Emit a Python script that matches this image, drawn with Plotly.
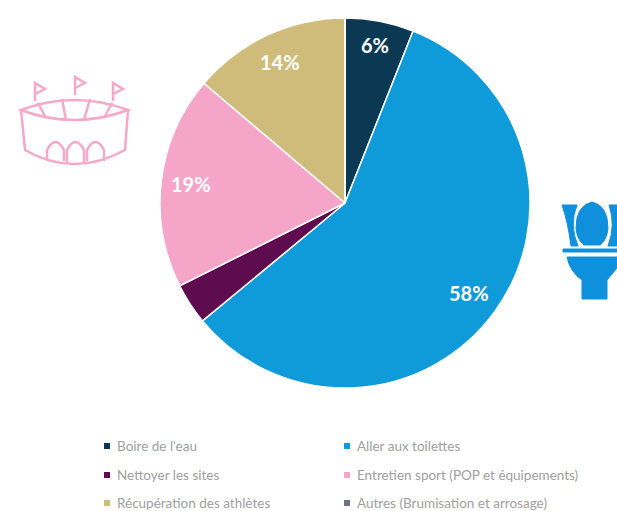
import math
import plotly.graph_objects as go

W, H = 617, 511
categories = ["Boire de l'eau", "Aller aux toilettes", "Nettoyer les sites",
              "Entretien sport (POP et équipements)", "Récupération des athlètes",
              "Autres (Brumisation et arrosage)"]
values = [6, 58, 3.6, 18.6, 13.8, 0]
slice_labels = ["6%", "58%", "", "19%", "14%", ""]
colors = ["#0b3954", "#0f9ad9", "#5e0b50", "#f5a6c8", "#cfbc7a", "#6d7480"]

CX, CY, R = 345, 203, 185
def px(x): return x / W
def py(y): return 1 - y / H

fig = go.Figure(go.Pie(
    values=values, labels=categories, sort=False, direction="clockwise", rotation=0,
    marker=dict(colors=colors, line=dict(color="white", width=1.5)),
    textinfo="none", hoverinfo="label+value", showlegend=False,
    domain=dict(x=[px(CX - R), px(CX + R)], y=[py(CY + R), py(CY - R)]),
))

annotations, shapes = [], []

# slice labels placed from the values
cum = 0
offsets = [0.87, 0.83, 0, 0.84, 0.84, 0]
for v, lab, k in zip(values, slice_labels, offsets):
    mid = math.radians((cum + v / 2) * 3.6)
    cum += v
    if lab:
        annotations.append(dict(
            x=px(CX + k * R * math.sin(mid)), y=py(CY - k * R * math.cos(mid)),
            xref="paper", yref="paper", xanchor="center", yanchor="middle",
            text=f"<b>{lab}</b>", showarrow=False,
            font=dict(family="Lato", size=20, color="white")))

# two-column legend
col_x = [107, 347]
row_y = [446, 475, 503]
for i, (name, c) in enumerate(zip(categories, colors)):
    x = col_x[i % 2]
    y = row_y[i // 2]
    shapes.append(dict(type="rect", xref="paper", yref="paper",
                       x0=px(x - 3), x1=px(x + 3), y0=py(y + 3), y1=py(y - 3),
                       fillcolor=c, line=dict(width=0)))
    annotations.append(dict(x=px(x + 8), y=py(y), xref="paper", yref="paper",
                            xanchor="left", yanchor="middle", text=name, showarrow=False,
                            font=dict(family="Lato", size=13.5, color="#a0a0a0")))

def svg(cmds):
    out = []
    for c in cmds:
        if isinstance(c, str):
            out.append(c)
        else:
            out.append(f"{px(c[0]):.5f},{py(c[1]):.5f}")
    return " ".join(out)

def line_path(d, color, width=2.5, fill=None):
    shapes.append(dict(type="path", xref="paper", yref="paper", path=d,
                       line=dict(color=color, width=width),
                       fillcolor=fill if fill else "rgba(0,0,0,0)"))

# stadium icon
PINK = "#f7a8c9"
line_path(svg(["M", (21, 110), "Q", (74, 90), (128, 110), "Q", (74, 130), (21, 110), "Z"]), PINK)
line_path(svg(["M", (21, 110), "L", (25, 150), "Q", (74, 178), (125, 150), "L", (128, 110)]), PINK)
for a, b in [((38, 103), (46, 118)), ((62, 99), (66, 120)), ((90, 99), (84, 120)), ((112, 103), (104, 118))]:
    line_path(svg(["M", a, "L", b]), PINK)
for x0, x1, base in [(47, 64, 161), (67, 84, 163), (87, 104, 161)]:
    line_path(svg(["M", (x0, base), "L", (x0, 150), "Q", ((x0 + x1) / 2, 134), (x1, 150), "L", (x1, base)]), PINK)
for fx, ft in [(35, 83), (75, 77), (113, 83)]:
    line_path(svg(["M", (fx, ft + 18), "L", (fx, ft), "L", (fx + 10, ft + 6), "L", (fx, ft + 11)]), PINK)

# toilet icon
BLUE = "#0f90dc"
line_path(svg(["M", (562, 205), "L", (577, 205), "Q", (569, 225), (578, 246), "L", (571, 246), "Q", (568, 222), (562, 205), "Z"]), BLUE, 1, BLUE)
line_path(svg(["M", (617, 205), "L", (609, 205), "Q", (616, 225), (608, 246), "L", (617, 246), "Z"]), BLUE, 1, BLUE)
line_path(svg(["M", (592, 202), "Q", (608, 206), (608, 228), "Q", (607, 240), (600, 245), "L", (584, 245), "Q", (577, 240), (576, 228), "Q", (576, 206), (592, 202), "Z"]), BLUE, 1, BLUE)
line_path(svg(["M", (563, 249), "L", (617, 249), "L", (617, 252), "L", (563, 252), "Z"]), BLUE, 1, BLUE)
line_path(svg(["M", (567, 257), "L", (617, 257), "L", (617, 268), "L", (607, 280), "L", (607, 299), "L", (582, 299), "L", (582, 280), "Q", (570, 272), (567, 257), "Z"]), BLUE, 1, BLUE)

fig.update_layout(width=W, height=H, autosize=False,
                  margin=dict(l=0, r=0, t=0, b=0),
                  paper_bgcolor="white", plot_bgcolor="white",
                  showlegend=False, annotations=annotations, shapes=shapes)
fig.write_html("out.html", config=dict(displayModeBar=False),
               post_script="document.body.style.margin='0';document.documentElement.style.overflow='hidden';")
